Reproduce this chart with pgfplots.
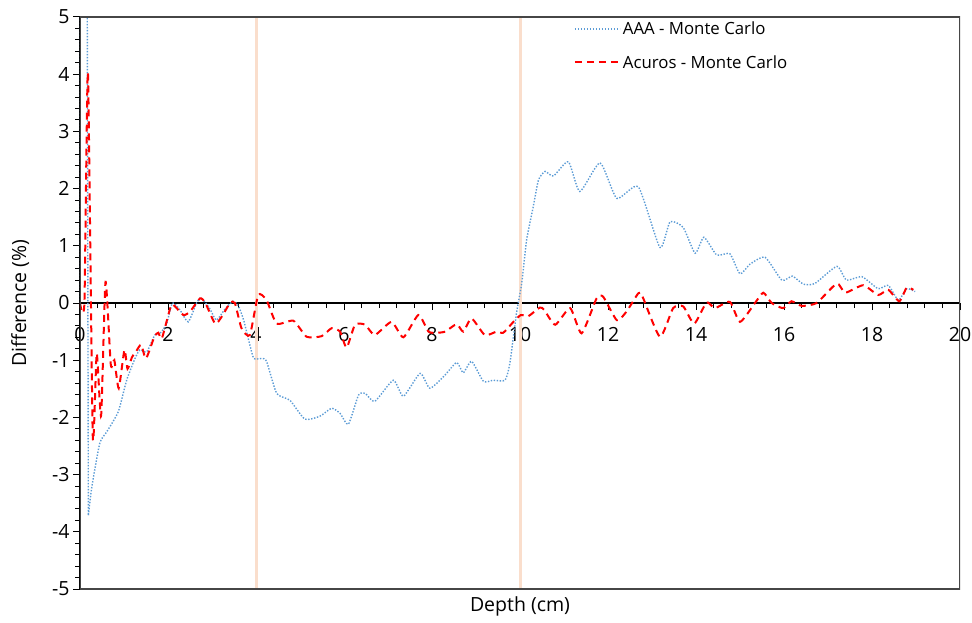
\documentclass[border=0pt]{standalone}
\usepackage{fontspec}
\setmainfont{Open Sans}
\usepackage{pgfplots}
\pgfplotsset{compat=1.18}

\definecolor{aaablue}{RGB}{91,155,213}
\definecolor{acurosred}{RGB}{255,0,0}
\definecolor{interface}{RGB}{250,222,204}
\definecolor{framegray}{RGB}{70,70,70}

\begin{document}
\begin{tikzpicture}[x=1pt,y=1pt]
\useasboundingbox (0,0) rectangle (972,622);
\begin{axis}[
  at={(80pt,33pt)}, anchor=south west,
  width=880pt, height=572pt, scale only axis,
  xmin=0, xmax=20, ymin=-5, ymax=5,
  axis x line=middle, axis y line=left,
  axis line style={-, black, line width=1.2pt},
  xtick={0,2,...,20}, ytick={-5,-4,...,5},
  minor x tick num=4, minor y tick num=4,
  tick align=outside,
  major tick length=7pt, minor tick length=5pt,
  every tick/.style={black, line width=1pt},
  hide obscured x ticks=false, hide obscured y ticks=false,
  /pgf/number format/assume math mode=true,
  x tick label style={font=\fontsize{19.5}{21}\selectfont, yshift=-14pt},
  y tick label style={font=\fontsize{19.5}{21}\selectfont},
  every axis x label/.style={at={(axis description cs:0.5,-0.03)}, anchor=center, font=\fontsize{19.5}{21}\selectfont},
  every axis y label/.style={at={(axis description cs:-0.068,0.5)}, anchor=center, rotate=90, font=\fontsize{19.5}{21}\selectfont},
  xlabel={Depth (cm)}, ylabel={Difference (\%)},
  legend style={at={(rel axis cs:0.561,0.995)}, anchor=north west, draw=none, fill=none,
    font=\fontsize{16.8}{18}\selectfont, row sep=15pt, inner sep=0pt},
  legend cell align=left,
  legend image code/.code={\draw[#1] (0pt,0pt) -- (45pt,0pt);},
  clip=true,
]
% interfaces of the heterogeneous slab
\addplot[interface, line width=3pt, forget plot] coordinates {(4,-5) (4,5)};
\addplot[interface, line width=3pt, forget plot] coordinates {(10,-5) (10,5)};

% AAA minus Monte Carlo: surface spike, then the smoothed depth profile
\addplot[aaablue, line width=1.4pt, dash pattern=on 1.4pt off 1.6pt, forget plot] coordinates {
(0,0) (0.01,60) (0.19,-3.71)
};
\addplot[aaablue, line width=1.4pt, dash pattern=on 1.4pt off 1.6pt, smooth, tension=0.35] coordinates {
(0.19,-3.71) (0.27,-3.21) (0.45,-2.45) (0.61,-2.25) (0.87,-1.90)
(1.06,-1.35) (1.25,-0.97) (1.36,-0.82) (1.52,-0.85) (1.70,-0.56) (1.82,-0.53)
(1.97,-0.36) (2.10,0.0) (2.27,-0.12) (2.46,-0.33) (2.65,0.0) (2.75,0.09)
(2.95,-0.10) (3.10,-0.30) (3.30,-0.10) (3.48,0.03) (3.60,-0.05) (3.72,-0.30)
(3.85,-0.70) (3.95,-0.97) (4.13,-0.97) (4.24,-1.02) (4.47,-1.58) (4.77,-1.70)
(5.11,-2.03) (5.45,-1.98) (5.72,-1.84) (5.91,-1.93) (6.10,-2.12) (6.33,-1.61)
(6.48,-1.58) (6.70,-1.72) (7.12,-1.35) (7.35,-1.63) (7.73,-1.23) (7.95,-1.49)
(8.26,-1.29) (8.56,-1.04) (8.71,-1.22) (8.90,-1.02) (9.17,-1.37) (9.39,-1.35)
(9.66,-1.35) (9.77,-1.05) (9.92,-0.18) (10.04,0.35) (10.15,1.10) (10.30,1.68)
(10.42,2.15) (10.57,2.30) (10.76,2.22) (11.10,2.47) (11.36,1.95) (11.82,2.45)
(12.20,1.83) (12.69,2.03) (13.18,0.97) (13.41,1.42) (13.71,1.32) (13.98,0.87)
(14.18,1.15) (14.47,0.84) (14.77,0.86) (15.00,0.51) (15.23,0.68) (15.57,0.80)
(15.95,0.40) (16.19,0.47) (16.44,0.33) (16.70,0.34) (17.20,0.64) (17.42,0.40)
(17.77,0.46) (18.14,0.25) (18.37,0.31) (18.60,0.05) (18.79,0.25) (18.98,0.20)
};
\addlegendentry{AAA - Monte Carlo}

% Acuros minus Monte Carlo
\addplot[acurosred, line width=2pt, dash pattern=on 7pt off 5pt, smooth, tension=0.35] coordinates {
(0,0) (0.10,0) (0.18,4.03) (0.29,-2.33) (0.38,-0.88) (0.48,-1.97) (0.58,0.37)
(0.70,-1.08) (0.78,-1.00) (0.88,-1.49) (1.01,-0.82) (1.08,-1.15) (1.18,-0.95)
(1.28,-0.84) (1.39,-0.73) (1.50,-0.97) (1.69,-0.59) (1.78,-0.52) (1.86,-0.62)
(2.05,-0.09) (2.12,-0.03) (2.35,-0.21) (2.50,-0.15) (2.73,0.08) (2.85,0.0)
(3.07,-0.36) (3.22,-0.24) (3.41,0.0) (3.52,0.0) (3.67,-0.44) (3.86,-0.56)
(4.05,0.14) (4.24,0.05) (4.47,-0.36) (4.85,-0.31) (5.15,-0.59) (5.49,-0.58)
(5.72,-0.44) (5.91,-0.50) (6.06,-0.78) (6.25,-0.38) (6.48,-0.38) (6.70,-0.56)
(7.08,-0.33) (7.35,-0.60) (7.69,-0.21) (7.92,-0.50) (8.11,-0.52) (8.30,-0.50)
(8.56,-0.37) (8.71,-0.50) (8.90,-0.27) (9.20,-0.56) (9.47,-0.50) (9.62,-0.52)
(9.85,-0.33) (10.02,-0.21) (10.19,-0.23) (10.45,-0.08) (10.55,-0.12) (10.80,-0.38)
(11.14,-0.09) (11.40,-0.53) (11.74,0.08) (11.89,0.11) (12.20,-0.30) (12.42,-0.15)
(12.69,0.17) (12.78,0.12) (13.18,-0.59) (13.48,-0.09) (13.71,-0.06) (13.96,-0.36)
(14.24,0.01) (14.43,-0.09) (14.77,0.02) (15.00,-0.33) (15.34,0.0) (15.53,0.18)
(15.72,0.0) (15.98,-0.09) (16.17,0.03) (16.40,-0.05) (16.74,0.0) (17.20,0.34)
(17.39,0.18) (17.80,0.31) (18.14,0.14) (18.37,0.23) (18.62,0.03) (18.79,0.27)
(18.94,0.23)
};
\addlegendentry{Acuros - Monte Carlo}

% outer frame of the plot area
\draw[framegray, line width=1.2pt] (rel axis cs:0,0) rectangle (rel axis cs:1,1);
\end{axis}
\end{tikzpicture}
\end{document}
